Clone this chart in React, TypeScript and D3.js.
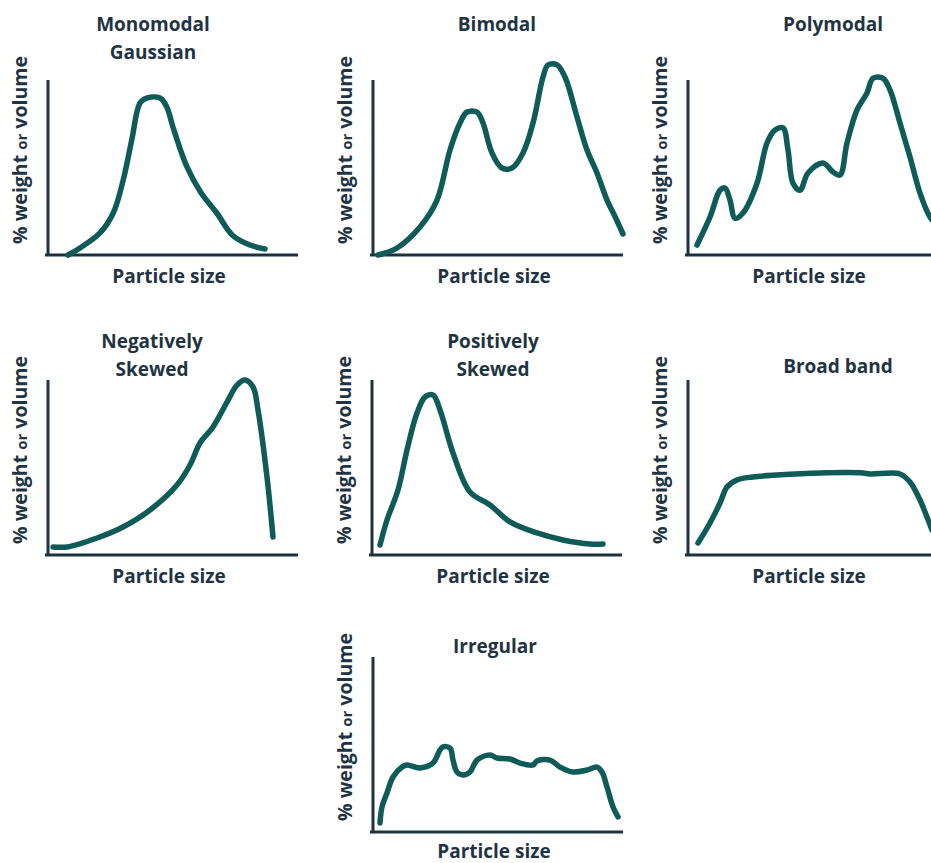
import React from 'react';
import * as d3 from 'd3';

// ---- Data (x: relative particle size 0-100 along axis, y: relative % weight 0-100 of axis height) ----
const panelTitles: string[][] = [
  ['Monomodal', 'Gaussian'],
  ['Bimodal'],
  ['Polymodal'],
  ['Negatively', 'Skewed'],
  ['Positively', 'Skewed'],
  ['Broad band'],
  ['Irregular'],
];

const xAxisLabel = 'Particle size';
const yAxisLabelParts = ['% weight', 'or', 'volume'];

const monomodalX = [8, 12.8, 20.8, 26.1, 30.1, 33.5, 36.8, 39.5, 44.8, 47.5, 50, 55.6, 61, 67.5, 74, 80.8, 86.8];
const monomodalY = [0, 4, 12.6, 24, 42.9, 65.7, 86.9, 89.7, 89.7, 84.6, 73, 50.3, 36, 24, 11, 5.7, 3.4];

const bimodalX = [2, 9.6, 18.8, 25.6, 30.8, 34.8, 37.6, 41.6, 44, 47.6, 51.6, 55.6, 60, 64, 68, 70, 73.6, 76.8, 81.6, 85.6, 89.6, 93.6, 96.8, 100];
const bimodalY = [0, 4, 16, 31.4, 60, 75.4, 81.7, 81.7, 75.4, 58.3, 49.7, 49.7, 58.3, 75.4, 101.7, 108.6, 108.6, 101.7, 78.9, 60, 46.9, 31.4, 22, 12];

const polymodalX = [3.6, 8.8, 12.8, 14.8, 16.8, 18.8, 22, 27.6, 31.6, 34.8, 38, 40, 42, 44.8, 48, 54, 58, 60.8, 63.6, 67.6, 71.6, 74, 78, 80.8, 84.8, 88.8, 92.8, 96.8, 99];
const polymodalY = [5.7, 21.7, 37, 38.3, 31.4, 21, 24, 41, 64, 71.4, 72.6, 60, 41, 37, 46.9, 52.6, 47.4, 45.7, 64, 82.9, 92.6, 101, 101, 94.3, 75.4, 56, 35.4, 21.7, 18];

const negSkewX = [2, 7.6, 19.6, 30, 40.8, 51.6, 56.8, 60.8, 66, 71.6, 75.6, 78.8, 82, 84, 87.6, 90];
const negSkewY = [4.6, 4.6, 9.7, 16, 25.7, 40, 51.4, 64, 73.1, 87.4, 97.1, 100, 96, 82.9, 44.6, 10.3];

const posSkewX = [3.2, 6, 10.4, 14, 18, 21.2, 24.4, 27.2, 32.4, 39.2, 47.2, 55.2, 66, 76.4, 87.2, 92.4];
const posSkewY = [5.7, 20, 37.1, 60, 81.1, 90.3, 91.4, 82.9, 58.3, 36, 28.6, 18.9, 12.6, 8.6, 6.3, 6.3];

const broadX = [4, 8.8, 12.8, 15.6, 19.6, 26, 35.6, 52.8, 70, 72.8, 84.8, 88.8, 92.8, 95.6, 97.6];
const broadY = [6.9, 18.3, 29.7, 38.9, 42.9, 44.6, 45.7, 46.9, 46.9, 46.3, 46.3, 41.7, 31.4, 21.7, 14.3];

const irregularX = [2.8, 3.6, 5.6, 8, 11.6, 13.6, 18.8, 24, 26.8, 28, 30.8, 32, 33.6, 36, 38.8, 41.6, 46.8, 49.6, 54.8, 58.8, 64, 65.6, 70.8, 74.8, 80, 85.6, 89.6, 91.6, 93.6, 96, 98];
const irregularY = [5.1, 14.3, 22.3, 31.4, 37.1, 38.3, 36.6, 39.4, 46.9, 48.6, 48, 41.1, 34.3, 32.6, 34.3, 41.1, 44, 42.3, 41.7, 39.4, 38.3, 40.6, 41.1, 37.1, 34.3, 35.4, 37.1, 34.3, 25.7, 14.3, 8.6];

const seriesX = [monomodalX, bimodalX, polymodalX, negSkewX, posSkewX, broadX, irregularX];
const seriesY = [monomodalY, bimodalY, polymodalY, negSkewY, posSkewY, broadY, irregularY];

// ---- Layout ----
const layout = [
  { x0: 48, yBot: 255, titleX: 153, titleY: 31 },
  { x0: 373, yBot: 255, titleX: 497, titleY: 31 },
  { x0: 688, yBot: 255, titleX: 833, titleY: 31 },
  { x0: 48, yBot: 555, titleX: 152, titleY: 348 },
  { x0: 372, yBot: 555, titleX: 493, titleY: 348 },
  { x0: 688, yBot: 555, titleX: 838, titleY: 373 },
  { x0: 373, yBot: 832, titleX: 495, titleY: 653 },
];

const AXIS_W = 250;
const AXIS_H = 175;
const CURVE_COLOR = '#0e5b58';
const AXIS_COLOR = '#1d3241';
const TEXT_COLOR = '#1f3442';
const FONT = "'Open Sans', 'Noto Sans', sans-serif";

function Panel({ idx }: { idx: number }) {
  const L = layout[idx];
  const xs = d3.scaleLinear().domain([0, 100]).range([L.x0, L.x0 + AXIS_W]);
  const ys = d3.scaleLinear().domain([0, 100]).range([L.yBot, L.yBot - AXIS_H]);
  const pts: [number, number][] = seriesX[idx].map((x, i) => [x, seriesY[idx][i]]);
  const line = d3
    .line<[number, number]>()
    .x((d) => xs(d[0]))
    .y((d) => ys(d[1]))
    .curve(d3.curveCatmullRom.alpha(0.5));
  const titleLines = panelTitles[idx];
  const labelX = L.x0 - 21;
  const labelY = L.yBot - 105;
  const xLabelY = Math.min(L.yBot + 28, 858);
  return (
    <g>
      <line x1={L.x0} x2={L.x0} y1={ys(100)} y2={L.yBot} stroke={AXIS_COLOR} strokeWidth={3} />
      <line x1={L.x0 - 3} x2={L.x0 + AXIS_W} y1={L.yBot} y2={L.yBot} stroke={AXIS_COLOR} strokeWidth={3} />
      <path d={line(pts) || ''} fill="none" stroke={CURVE_COLOR} strokeWidth={5.5} strokeLinecap="round" strokeLinejoin="round" />
      {titleLines.map((t, i) => (
        <text key={i} x={L.titleX} y={L.titleY + i * 28} textAnchor="middle" fontFamily={FONT} fontWeight={700} fontSize={19} fill={TEXT_COLOR}>
          {t}
        </text>
      ))}
      <text x={L.x0 + 121} y={xLabelY} textAnchor="middle" fontFamily={FONT} fontWeight={700} fontSize={19} fill={TEXT_COLOR}>
        {xAxisLabel}
      </text>
      <text transform={`translate(${labelX},${labelY}) rotate(-90)`} textAnchor="middle" fontFamily={FONT} fontWeight={700} fontSize={19.5} fill={TEXT_COLOR}>
        <tspan>{yAxisLabelParts[0] + ' '}</tspan>
        <tspan fontSize={15}>{yAxisLabelParts[1]}</tspan>
        <tspan>{' ' + yAxisLabelParts[2]}</tspan>
      </text>
    </g>
  );
}

export default function App() {
  return (
    <svg width={931} height={863} style={{ position: 'absolute', left: 0, top: 0, background: '#fff' }}>
      <rect width={931} height={863} fill="#fff" />
      {layout.map((_, i) => (
        <Panel key={i} idx={i} />
      ))}
    </svg>
  );
}
